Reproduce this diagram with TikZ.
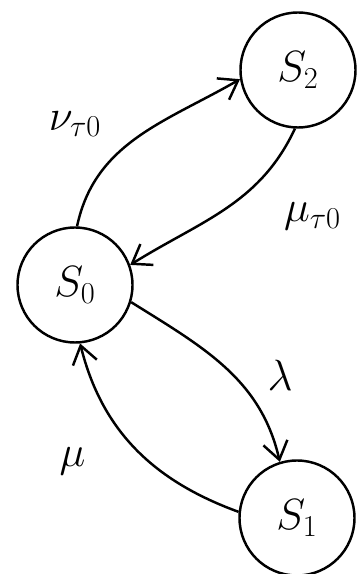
\documentclass[tikz,border=0pt]{standalone}
\usepackage{amsmath}
\usetikzlibrary{arrows.meta}

\begin{document}
\begin{tikzpicture}[
    state/.style={circle, draw=black, line width=1.4pt, minimum size=2.3cm,
                  inner sep=0pt, font=\fontsize{27}{31}\selectfont},
    trans/.style={-{Straight Barb[length=10pt,width=14pt,line width=1.4pt]},
                  line width=1.4pt},
    rate/.style={font=\fontsize{25}{29}\selectfont, inner sep=1pt},
]
\useasboundingbox (0,0) rectangle (7.24,11.48);

%---------------------------------------------------------------
% States
%---------------------------------------------------------------
\node[state] (s2) at (5.96, 10.08) {$S_2$};
\node[state] (s0) at (1.50,  5.78) {$S_0$};
\node[state] (s1) at (5.94,  1.12) {$S_1$};

%---------------------------------------------------------------
% Transitions between S0 and S2
%---------------------------------------------------------------
\draw[trans] (s0.88) to[out=78, in=210] (s2.189);
\draw[trans] (s2.267) to[out=245, in=32] (s0.20);
\node[rate] (nu) at (1.50, 9.00) {$\nu_{\tau 0}$};
\node[rate] (mt) at (6.25, 7.15) {$\mu_{\tau 0}$};

%---------------------------------------------------------------
% Transitions between S0 and S1
%---------------------------------------------------------------
\draw[trans] (s0.-17) to[out=-32, in=103] (s1.107);
\draw[trans] (s1.174) to[out=160, in=-76] (s0.-85);
\node[rate] (la) at (5.60, 3.98) {$\lambda$};
\node[rate] (mu) at (1.45, 2.25) {$\mu$};

\end{tikzpicture}
\end{document}
